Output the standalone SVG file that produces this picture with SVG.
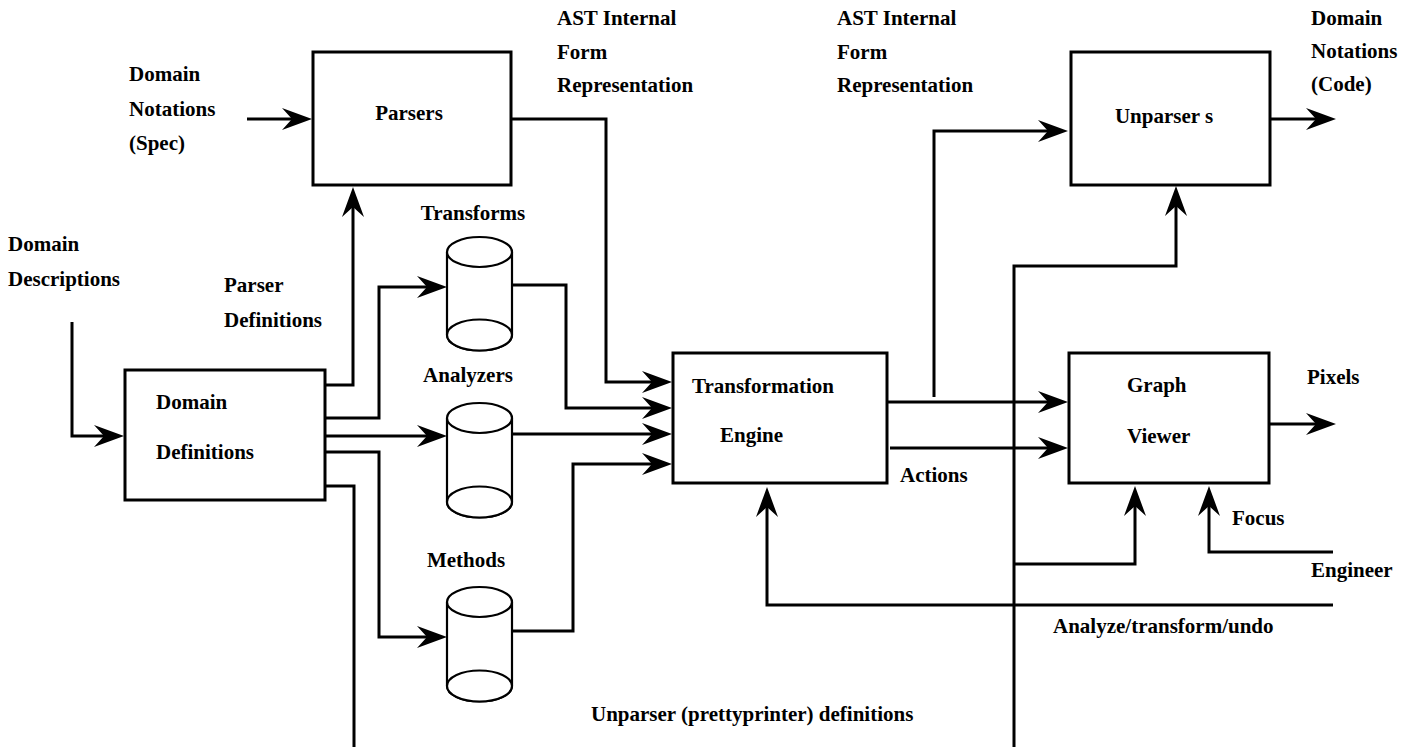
<svg xmlns="http://www.w3.org/2000/svg" width="1414" height="747" viewBox="0 0 1414 747">
<style>
.t{font-family:"Liberation Serif","Times New Roman",serif;font-weight:bold;font-size:21px;fill:#000}
.m{text-anchor:middle}
.box{fill:#fff;stroke:#000;stroke-width:3}
.cyl{fill:#fff;stroke:#000;stroke-width:2.2}
.c{fill:none;stroke:#000;stroke-width:3}
.a{marker-end:url(#ah)}
</style>
<defs>
<marker id="ah" markerUnits="userSpaceOnUse" viewBox="-22 -12 34 24" markerWidth="34" markerHeight="24" refX="0" refY="0" orient="auto">
<path d="M10,0 L-20,-11 L-10,0 L-20,11 Z" fill="#000"/>
</marker>
</defs>
<rect width="1414" height="747" fill="#fff"/>

<g id="connectors">
<path class="c a" d="M247,119 H302"/>
<path class="c a" d="M511,119 H606 V382 H662"/>
<path class="c a" d="M325,385 H353 V197"/>
<path class="c a" d="M325,418 H379 V287 H437"/>
<path class="c a" d="M325,436 H437"/>
<path class="c a" d="M325,452 H379 V637 H437"/>
<path class="c" d="M325,486 H354 V747"/>
<path class="c a" d="M72,322 V436 H114"/>
<path class="c a" d="M512,285 H566 V408 H662"/>
<path class="c a" d="M512,434 H662"/>
<path class="c a" d="M512,631 H573 V464 H662"/>
<path class="c a" d="M934,397 V131 H1058"/>
<path class="c a" d="M887,402 H1058"/>
<path class="c a" d="M890,448 H1058"/>
<path class="c a" d="M1271,119 H1326"/>
<path class="c a" d="M1269,424 H1326"/>
<path class="c a" d="M1014,747 V266 H1176 V196"/>
<path class="c a" d="M1014,564 H1135 V496"/>
<path class="c a" d="M1333,552 H1209 V496"/>
<path class="c a" d="M1333,605 H767 V497"/>
</g>

<g id="parsers">
<rect class="box" x="313" y="52" width="198" height="133"/>
<text class="t m" x="409" y="120">Parsers</text>
</g>
<g id="unparsers">
<rect class="box" x="1071" y="52" width="199" height="133"/>
<text class="t m" x="1164" y="123">Unparser s</text>
</g>
<g id="transformation-engine">
<rect class="box" x="673" y="353" width="214" height="130"/>
<text class="t" x="692" y="393">Transformation</text>
<text class="t" x="720" y="442">Engine</text>
</g>
<g id="graph-viewer">
<rect class="box" x="1069" y="353" width="200" height="130"/>
<text class="t" x="1127" y="392">Graph</text>
<text class="t" x="1127" y="443">Viewer</text>
</g>
<g id="domain-definitions">
<rect class="box" x="125" y="370" width="200" height="130"/>
<text class="t" x="156" y="409">Domain</text>
<text class="t" x="156" y="459">Definitions</text>
</g>

<g id="transforms">
<path class="cyl" d="M447,252 V335 A32.5,15.5 0 0 0 512,335 V252"/>
<ellipse class="cyl" cx="479.5" cy="252" rx="32.5" ry="15"/>
<ellipse class="cyl" cx="479.5" cy="335" rx="32.5" ry="15.5"/>
<text class="t m" x="473" y="220">Transforms</text>
</g>
<g id="analyzers">
<path class="cyl" d="M447,418 V502 A32.5,15.5 0 0 0 512,502 V418"/>
<ellipse class="cyl" cx="479.5" cy="418" rx="32.5" ry="15"/>
<ellipse class="cyl" cx="479.5" cy="502" rx="32.5" ry="15.5"/>
<text class="t m" x="468" y="382">Analyzers</text>
</g>
<g id="methods">
<path class="cyl" d="M447,602 V686 A32.5,15.5 0 0 0 512,686 V602"/>
<ellipse class="cyl" cx="479.5" cy="602" rx="32.5" ry="15"/>
<ellipse class="cyl" cx="479.5" cy="686" rx="32.5" ry="15.5"/>
<text class="t m" x="466" y="567">Methods</text>
</g>

<g id="labels">
<text class="t" x="557" y="25">AST Internal</text>
<text class="t" x="557" y="59">Form</text>
<text class="t" x="557" y="92">Representation</text>
<text class="t" x="837" y="25">AST Internal</text>
<text class="t" x="837" y="59">Form</text>
<text class="t" x="837" y="92">Representation</text>
<text class="t" x="1311" y="25">Domain</text>
<text class="t" x="1311" y="58">Notations</text>
<text class="t" x="1311" y="91">(Code)</text>
<text class="t" x="129" y="81">Domain</text>
<text class="t" x="129" y="116">Notations</text>
<text class="t" x="129" y="150">(Spec)</text>
<text class="t" x="8" y="251">Domain</text>
<text class="t" x="8" y="286">Descriptions</text>
<text class="t" x="224" y="292">Parser</text>
<text class="t" x="224" y="327">Definitions</text>
<text class="t" x="900" y="482">Actions</text>
<text class="t" x="1307" y="384">Pixels</text>
<text class="t" x="1232" y="525">Focus</text>
<text class="t" x="1311" y="577">Engineer</text>
<text class="t" x="1053" y="633">Analyze/transform/undo</text>
<text class="t" x="591" y="721">Unparser (prettyprinter) definitions</text>
</g>
</svg>
